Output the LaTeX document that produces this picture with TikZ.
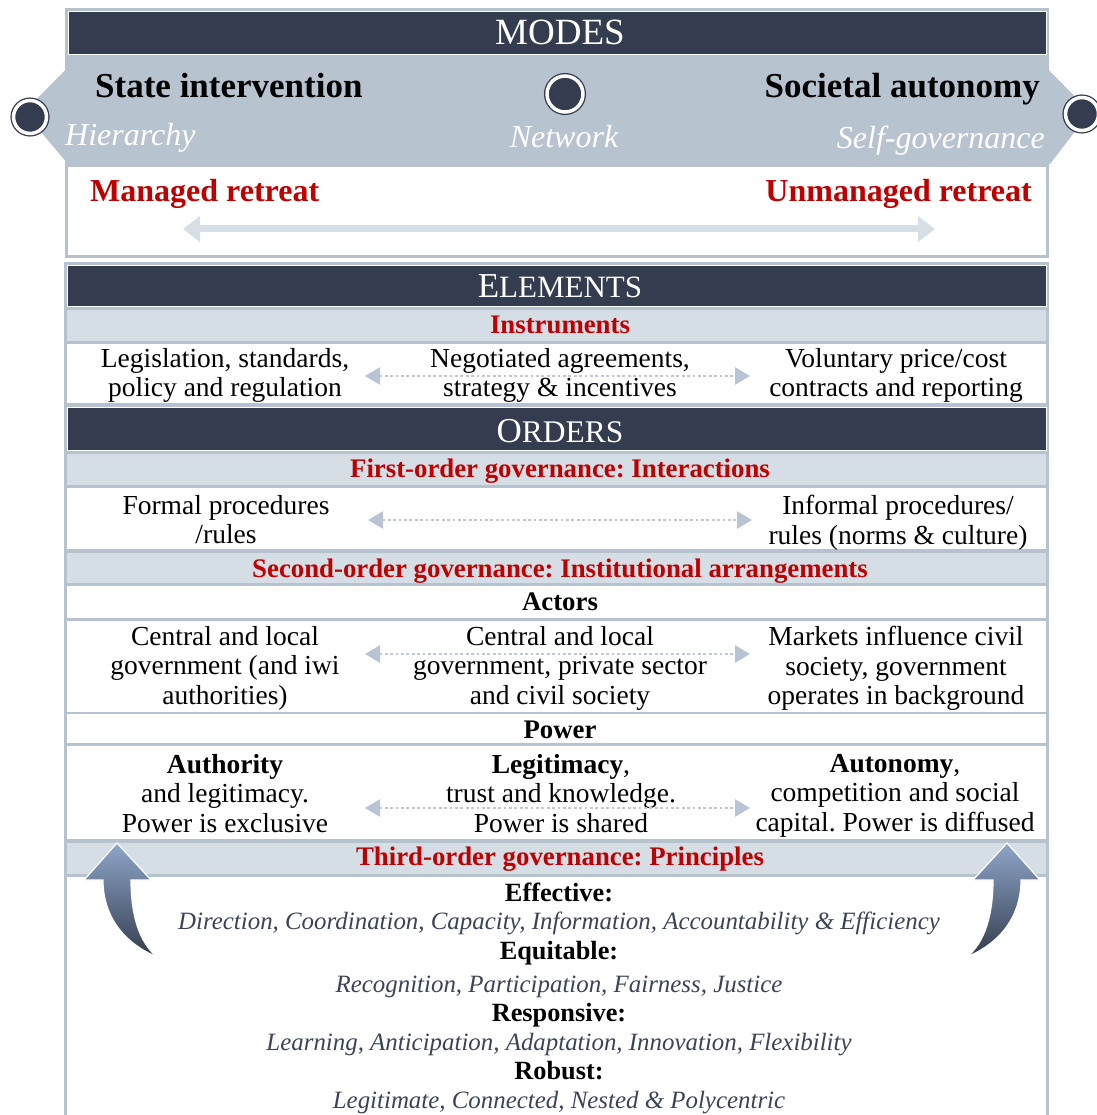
\documentclass[tikz,border=0pt]{standalone}
\usepackage{fontspec}
\setmainfont{Liberation Serif}
\usetikzlibrary{arrows.meta}
\frenchspacing

\definecolor{navy}{HTML}{333D4F}
\definecolor{band}{HTML}{B8C3D0}
\definecolor{rim}{HTML}{B7C2CF}
\definecolor{pale}{HTML}{D5DDE5}
\definecolor{redtxt}{HTML}{C00000}
\definecolor{slate}{HTML}{3B4457}
\definecolor{dots}{HTML}{BFC8D5}
\definecolor{tipc}{HTML}{B8C4D3}
\definecolor{bigarr}{HTML}{D6DEE6}
\definecolor{arrtop}{HTML}{8FA6C9}

\tikzset{
  rimfill/.style={fill=rim},
  bar/.style={fill=navy, draw=white, line width=0.8pt},
  strip/.style={fill=pale},
  cell/.style={fill=white},
  ring/.style={circle, fill=navy, draw=navy, double=white, double distance=3.5pt,
    line width=1.3pt, minimum size=33pt, inner sep=0pt},
  hugearrow/.style={draw=bigarr, line width=7pt,
    {Triangle[length=17pt,width=25pt]}-{Triangle[length=17pt,width=25pt]}},
  dotarrow/.style={draw=dots, line width=2.8pt, dash pattern=on 2.8pt off 2.6pt,
    {Triangle[length=15pt,width=17pt,color=tipc]}-{Triangle[length=15pt,width=17pt,color=tipc]}},
  curl/.style={top color=arrtop, bottom color=navy, draw=white, line width=1.2pt},
}

\begin{document}
\begin{tikzpicture}[x=1pt, y=-1pt]
  \useasboundingbox (0,0) rectangle (1096,1115);

  % modes panel
  \fill[rimfill] (65,8) rectangle (1049,258);
  \path[bar] (68,11) rectangle (1046,54);
  \fill[band] (78,57) -- (1036,57) -- (1090,112) -- (1050,164)
    -- (68,164) -- (24,112) -- cycle;
  \fill[cell] (68,167) rectangle (1046,255);

  \node[ring] (cl) at (30,117) {};
  \node[ring, minimum size=36pt] (cm) at (565,94) {};
  \node[ring] (cr) at (1082,114) {};

  \begin{scope}[every node/.style={inner sep=0pt, anchor=base}]
    \node[text=white, font=\fontsize{37}{37}\selectfont] (modes) at (560,45) {MODES};
    \node[anchor=base west, font=\fontsize{35}{35}\selectfont\bfseries] (si) at (95,98) {State intervention};
    \node[anchor=base east, font=\fontsize{35}{35}\selectfont\bfseries] (sa) at (1040,98) {Societal autonomy};
    \node[anchor=base west, text=white, font=\fontsize{32}{32}\selectfont\itshape] (hi) at (65,146) {Hierarchy};
    \node[text=white, font=\fontsize{32}{32}\selectfont\itshape] (nw) at (564,148) {Network};
    \node[anchor=base east, text=white, font=\fontsize{32}{32}\selectfont\itshape] (sg) at (1045,149) {Self-governance};
    \node[anchor=base west, text=redtxt, font=\fontsize{32}{32}\selectfont\bfseries] (mr) at (90,202) {Managed retreat};
    \node[anchor=base east, text=redtxt, font=\fontsize{32}{32}\selectfont\bfseries] (ur) at (1032,202) {Unmanaged retreat};
  \end{scope}

  \coordinate (ml) at (183,229);
  \coordinate (mr2) at (935,229);
  \path[hugearrow] (ml) -- (mr2);

  % elements and orders panel
  \fill[rimfill] (64,262) rectangle (1049,1120);
  \path[bar] (67,265) rectangle (1046,306);
  \fill[strip] (67,310) rectangle (1046,341);
  \fill[cell] (67,344) rectangle (1046,403);
  \path[bar] (67,407) rectangle (1046,450);
  \fill[strip] (67,454) rectangle (1046,485);
  \fill[cell] (67,488) rectangle (1046,549);
  \fill[strip] (67,553) rectangle (1046,583);
  \fill[cell] (67,586) rectangle (1046,618);
  \fill[cell] (67,621) rectangle (1046,712);
  \fill[cell] (67,714) rectangle (1046,743);
  \fill[cell] (67,746) rectangle (1046,839);
  \fill[strip] (67,843) rectangle (1046,874);
  \fill[cell] (67,877) rectangle (1046,1120);

  % headings
  \begin{scope}[every node/.style={inner sep=0pt, anchor=base, font=\fontsize{26.8}{29.5}\selectfont\bfseries}]
    \node[text=white, font=\fontsize{35}{35}\selectfont] (elements) at (560,297)
      {E{\fontsize{31}{31}\selectfont LEMENTS}};
    \node[text=white, font=\fontsize{35}{35}\selectfont] (orders) at (560,442)
      {O{\fontsize{31.5}{31.5}\selectfont RDERS}};
    \node[text=redtxt] (instr) at (560,333) {Instruments};
    \node[text=redtxt] (first) at (560,477) {First-order governance: Interactions};
    \node[text=redtxt] (second) at (560,577) {Second-order governance: Institutional arrangements};
    \node[text=redtxt] (third) at (560,865) {Third-order governance: Principles};
    \node (actors) at (560,610) {Actors};
    \node (power) at (560,738) {Power};
  \end{scope}

  % cells
  \begin{scope}[every node/.style={inner sep=0pt, anchor=north, align=center,
      font=\fontsize{27.5}{29.5}\selectfont}]
    \node (insL) at (225,348) {Legislation, standards,\\policy and regulation};
    \node (insM) at (560,348) {Negotiated agreements,\\strategy \& incentives};
    \node (insR) at (896,348) {Voluntary price/cost\\contracts and reporting};
    \node (frmL) at (226,495) {Formal procedures\\/rules};
    \node (frmR) at (898,495) {Informal procedures/\\rules (norms \& culture)};
    \node (actL) at (225,626) {Central and local\\government (and iwi\\authorities)};
    \node (actM) at (560,626) {Central and local\\government, private sector\\and civil society};
    \node (actR) at (896,626) {Markets influence civil\\society, government\\operates in background};
    \node (powL) at (225,754) {\textbf{Authority}\\and legitimacy.\\Power is exclusive};
    \node (powM) at (561,754) {\textbf{Legitimacy},\\trust and knowledge.\\Power is shared};
    \node (powR) at (895,754) {\textbf{Autonomy},\\competition and social\\capital. Power is diffused};
  \end{scope}

  % principles
  \begin{scope}[every node/.style={inner sep=0pt, anchor=base, font=\fontsize{26.3}{29}\selectfont\bfseries}]
    \node (eff) at (559,901) {Effective:};
    \node (equ) at (559,959) {Equitable:};
    \node (res) at (559,1021) {Responsive:};
    \node (rob) at (559,1079) {Robust:};
  \end{scope}
  \begin{scope}[every node/.style={inner sep=0pt, anchor=base, text=slate, font=\fontsize{24.9}{29}\selectfont\itshape}]
    \node (effq) at (559,929) {Direction, Coordination, Capacity, Information, Accountability \& Efficiency};
    \node (equq) at (559,992) {Recognition, Participation, Fairness, Justice};
    \node (resq) at (559,1050) {Learning, Anticipation, Adaptation, Innovation, Flexibility};
    \node (robq) at (559,1108) {Legitimate, Connected, Nested \& Polycentric};
  \end{scope}

  % dotted arrows
  \coordinate (i1) at (365,376);  \coordinate (i2) at (750,376);
  \coordinate (f1) at (368,520);  \coordinate (f2) at (752,520);
  \coordinate (a1) at (365,654);  \coordinate (a2) at (750,654);
  \coordinate (p1) at (365,808);  \coordinate (p2) at (750,808);
  \path[dotarrow] (i1) -- (i2);
  \path[dotarrow] (f1) -- (f2);
  \path[dotarrow] (a1) -- (a2);
  \path[dotarrow] (p1) -- (p2);

  % curved arrows
  \path[curl] (117,843) -- (151,880) -- (131,880) .. controls (131,915) and (139,942) .. (157,957)
    .. controls (122,942) and (103,915) .. (103,880) -- (84,880) -- cycle;
  \path[curl] (1007,843) -- (973,880) -- (993,880) .. controls (993,915) and (985,942) .. (967,957)
    .. controls (1002,942) and (1021,915) .. (1021,880) -- (1040,880) -- cycle;

\end{tikzpicture}
\end{document}
